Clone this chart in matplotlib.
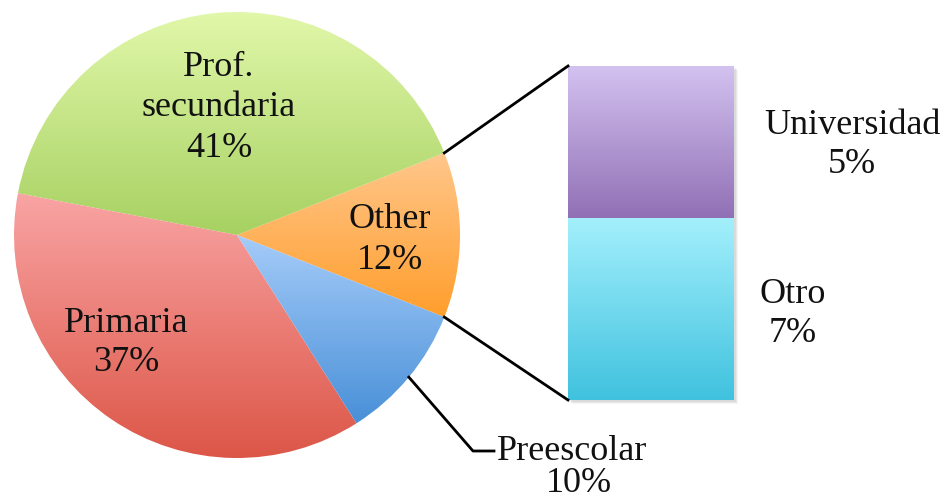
import matplotlib.pyplot as plt
import numpy as np
from matplotlib.colors import LinearSegmentedColormap

# datos del gráfico (porcentajes)
pie_labels = ['Other', 'Prof.\nsecundaria', 'Primaria', 'Preescolar']
pie_values = [12, 41, 37, 10]
bar_labels = ['Otro', 'Universidad']
bar_values = [6.55, 5.45]   # se muestran redondeados: 7% y 5%

# colores degradados (arriba, abajo)
pie_grad = [('#ffc78c', '#ff9e2c'), ('#e2f8ab', '#a7d162'),
            ('#f9a4a4', '#dc5647'), ('#a6ccf9', '#4890d8')]
bar_grad = [('#a4f0fc', '#40c2df'), ('#d3c2f0', '#9170b5')]

fig = plt.figure(figsize=(9.47, 5), dpi=100)
ax = fig.add_axes([0, 0, 1, 1])

cx, cy, r = 237, 265, 223
start = -pie_values[0] / 100 * 360 / 2

wedges, _ = ax.pie(pie_values, startangle=start, center=(cx, cy), radius=r,
                   colors=['none'] * 4, wedgeprops=dict(linewidth=0))


def degradado(patch, top, bottom, extent):
    cmap = LinearSegmentedColormap.from_list('g', [bottom, top])
    grad = np.linspace(0, 1, 256).reshape(-1, 1)
    im = ax.imshow(grad, cmap=cmap, extent=extent, origin='lower',
                   aspect='auto', interpolation='bicubic', zorder=1)
    im.set_clip_path(patch)


for w, (top, bottom) in zip(wedges, pie_grad):
    verts = w.get_path().vertices
    x0, y0 = verts.min(axis=0)
    x1, y1 = verts.max(axis=0)
    degradado(w, top, bottom, [x0, x1, y0, y1])

# barra apilada de "Other"
scale = 334 / sum(bar_values)
bar_x, bar_w, bar_bottom = 651, 166, 100
bottom = bar_bottom
for v, (top, bot) in zip(bar_values, bar_grad):
    b = ax.bar(bar_x, v * scale, width=bar_w, bottom=bottom, color='none',
               linewidth=0)[0]
    degradado(b, top, bot, [bar_x - bar_w / 2, bar_x + bar_w / 2,
                            bottom, bottom + v * scale])
    bottom += v * scale
bar_top = bottom

# sombra suave de la barra
for off, al in [(4, 0.04), (3, 0.05), (2, 0.06)]:
    ax.add_patch(plt.Rectangle((bar_x - bar_w / 2 + off, bar_bottom - off), bar_w,
                               bar_top - bar_bottom, color='#000000', alpha=al,
                               zorder=0.5, linewidth=0))

# líneas de conexión
w_other = wedges[0]
a1 = np.radians(w_other.theta2)
a2 = np.radians(w_other.theta1)
ax.plot([cx + r * np.cos(a1), bar_x - bar_w / 2], [cy + r * np.sin(a1), bar_top],
        color='black', lw=2, zorder=3)
ax.plot([cx + r * np.cos(a2), bar_x - bar_w / 2], [cy + r * np.sin(a2), bar_bottom],
        color='black', lw=2, zorder=3)

font = dict(family='Liberation Serif', fontsize=26, color='#111111', zorder=4)

# etiquetas del pastel
ax.text(219, 392, '%s\n%d%%' % (pie_labels[1], pie_values[1]), ha='center', va='center',
        linespacing=1.3, **font)
ax.text(390, 260, '%s\n%d%%' % (pie_labels[0], pie_values[0]), ha='center', va='center',
        linespacing=1.32, **font)
ax.text(126, 157, '%s\n%d%%' % (pie_labels[2], pie_values[2]), ha='center', va='center',
        linespacing=1.22, **font)

# Preescolar con línea guía
w_pre = wedges[3]
am = np.radians((w_pre.theta1 + w_pre.theta2) / 2)
px, py = cx + r * np.cos(am), cy + r * np.sin(am)
ax.plot([px, 473, 494], [py, 49, 49], color='black', lw=2, zorder=3)
ax.text(497, 49, pie_labels[3], ha='left', va='center', **font)
ax.text(579, 17, '%d%%' % pie_values[3], ha='center', va='center', **font)

# etiquetas de la barra
ax.text(852, 355, '%s\n%.0f%%' % (bar_labels[1], bar_values[1]), ha='center', va='center',
        linespacing=1.25, **font)
ax.text(793, 186, '%s\n%.0f%%' % (bar_labels[0], bar_values[0]), ha='center', va='center',
        linespacing=1.25, **font)

ax.set_xlim(0, 947)
ax.set_ylim(0, 500)
ax.set_aspect('auto')
ax.axis('off')
fig.savefig('out.png', dpi=100)
